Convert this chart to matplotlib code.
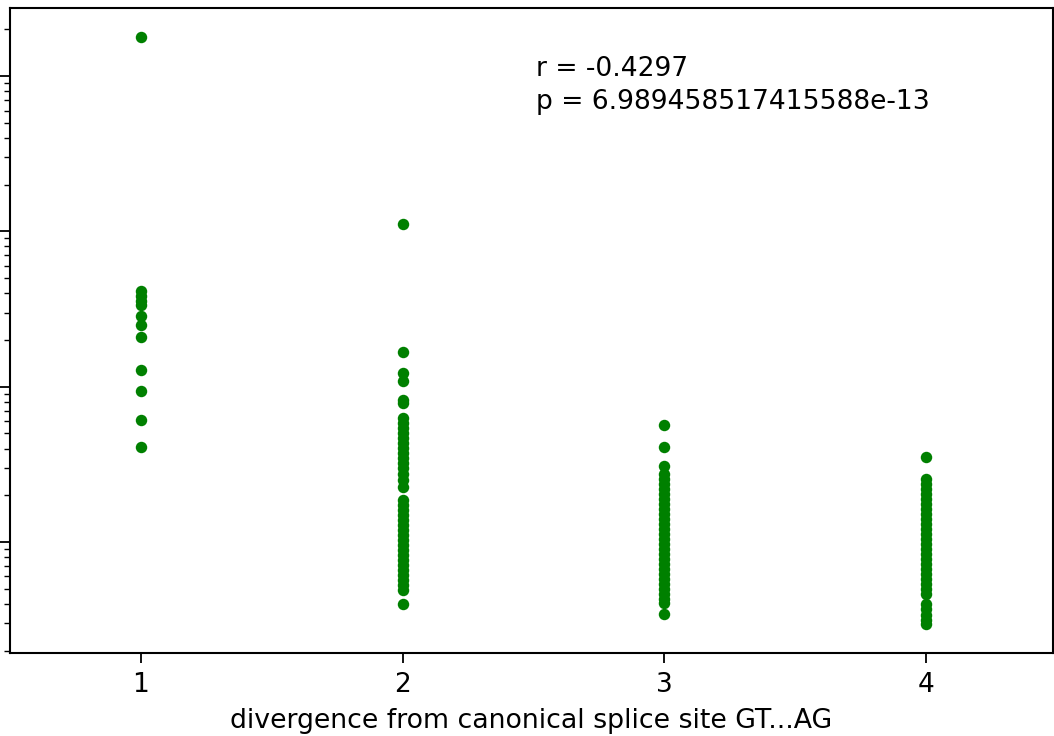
import matplotlib
matplotlib.use('Agg')
import matplotlib.pyplot as plt
import numpy as np

# divergence category -> values (log axis, labels fall outside the crop)
div_1 = [1790, 41.3, 38.4, 35.6, 33.6, 28.5, 25.0, 20.9, 12.8, 9.38, 6.11, 4.09]
div_2 = [111.6, 16.7, 12.3, 10.9, 8.21, 7.85,
         6.29, 5.84, 5.42, 5.03, 4.67, 4.34, 4.03, 3.74, 3.47, 3.23, 3.00, 2.74,
         2.51, 2.26, 1.86, 1.73, 1.61, 1.49, 1.39, 1.29, 1.19, 1.11, 1.03,
         0.957, 0.888, 0.825, 0.766, 0.711, 0.660, 0.613, 0.569, 0.529, 0.491,
         0.399]
div_3 = [5.67, 4.09, 3.09, 2.74, 2.54, 2.36, 2.19, 2.04, 1.89, 1.76, 1.63,
         1.51, 1.41, 1.31, 1.21, 1.13, 1.05, 0.971, 0.901, 0.837, 0.777,
         0.722, 0.670, 0.622, 0.578, 0.537, 0.498, 0.463, 0.430, 0.405, 0.344]
div_4 = [3.53, 2.54, 2.36, 2.19, 2.04, 1.89, 1.76, 1.63, 1.51, 1.41, 1.31,
         1.21, 1.13, 1.05, 0.971, 0.901, 0.837, 0.777, 0.722, 0.670, 0.622,
         0.578, 0.537, 0.498, 0.463, 0.399, 0.370, 0.339, 0.315, 0.296]

groups = [1, 2, 3, 4]
r_val = -0.4297
p_val = 6.989458517415588e-13

xs = []
ys = []
for g, vals in zip(groups, [div_1, div_2, div_3, div_4]):
    xs += [g] * len(vals)
    ys += vals

fig = plt.figure(figsize=(10.54, 7.36), dpi=100)
ax = fig.add_axes([10 / 1054, 83 / 736, 1043 / 1054, 645 / 736])

ax.scatter(xs, ys, c='green', s=68, linewidths=0, zorder=3)

ax.set_yscale('log')
ax.set_ylim(0.193, 2743)
ax.set_xlim(0.5, 4.485)
ax.set_xticks(groups)
ax.set_xticklabels([str(g) for g in groups])
ax.set_xlabel('divergence from canonical splice site GT...AG', fontsize=19.3,
              labelpad=7.5)

ax.tick_params(axis='both', which='major', labelsize=19, length=7, width=1.3)
ax.tick_params(axis='x', which='major', pad=6.5)
ax.tick_params(axis='y', which='minor', length=4.5, width=1.0)
# the y tick labels sit outside the cropped picture
ax.tick_params(axis='y', which='both', labelleft=False)
for s in ax.spines.values():
    s.set_linewidth(1.5)

ax.text(0.504, 0.926, 'r = %.4f\np = %s' % (r_val, repr(p_val)),
        transform=ax.transAxes, fontsize=19.1, va='top', ha='left',
        linespacing=1.35)

plt.savefig('out.png', dpi=100)
plt.close()
